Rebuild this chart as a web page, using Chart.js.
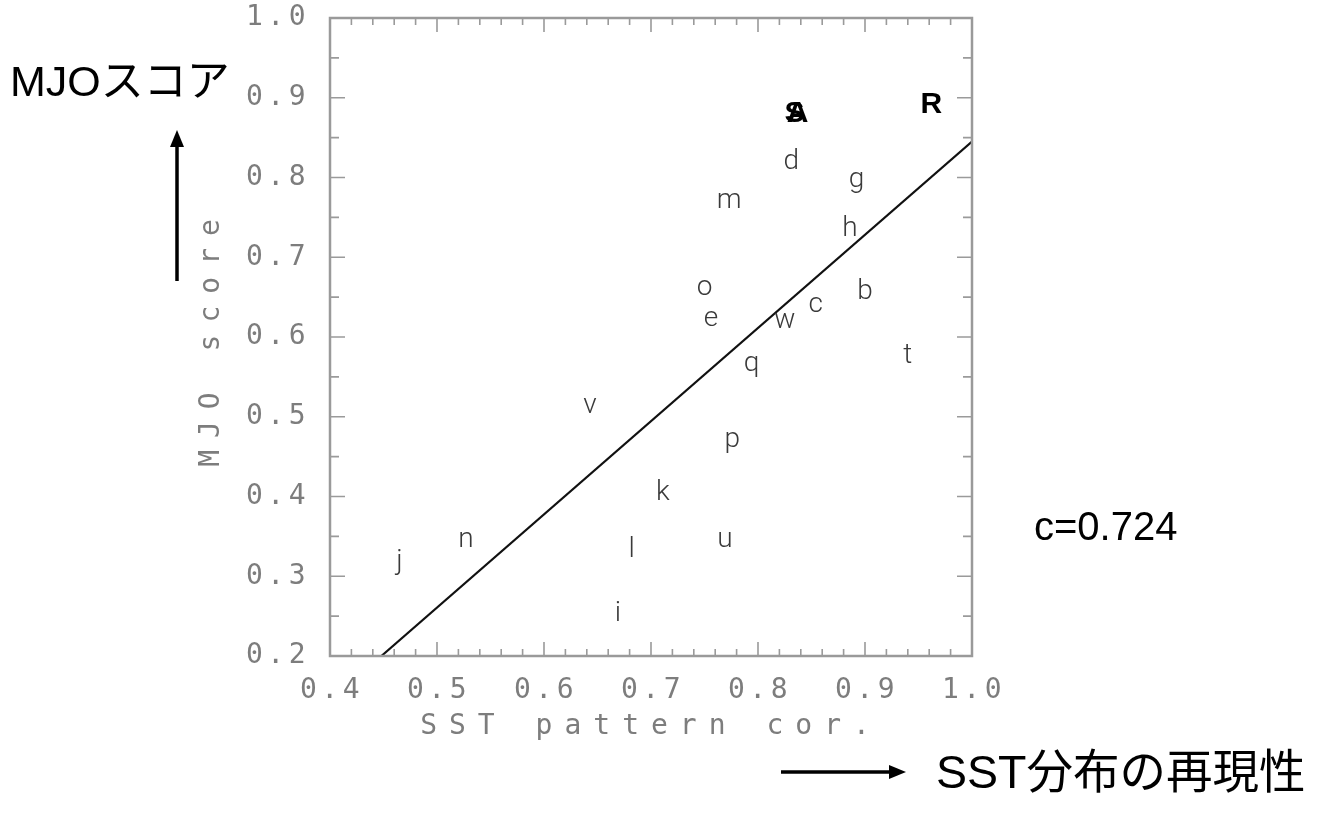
<!DOCTYPE html>
<html lang="ja">
<head>
<meta charset="utf-8">
<title>MJO score vs SST pattern cor.</title>
<script src="https://cdn.jsdelivr.net/npm/chart.js@4.4.1/dist/chart.umd.min.js"></script>
<style>
  html, body { margin: 0; padding: 0; background: #fff; }
  #wrap { position: relative; width: 1318px; height: 816px; overflow: hidden; }
  #chart { position: absolute; left: 0; top: 0; }
  .note {
    position: absolute;
    font-family: "Liberation Sans", Arial, "Noto Sans CJK JP", sans-serif;
    color: #000;
    white-space: nowrap;
    line-height: 1;
  }
  #note-y { left: 10px; top: 60px; font-size: 43px; }
  #note-c { left: 1034px; top: 506px; font-size: 40px; }
  #note-x { left: 936px; top: 749px; font-size: 46.5px; }
  svg.arrow { position: absolute; overflow: visible; }
</style>
</head>
<body>
<div id="wrap">
  <canvas id="chart" width="1318" height="816"></canvas>

  <div class="note" id="note-y">MJOスコア</div>
  <svg class="arrow" style="left:0;top:0" width="1318" height="816">
    <line x1="177" y1="281" x2="177" y2="146" stroke="#000" stroke-width="3.5"/>
    <polygon points="177,130 170,147 184,147" fill="#000"/>
    <line x1="781" y1="772" x2="890" y2="772" stroke="#000" stroke-width="3.5"/>
    <polygon points="906,772 889,765 889,779" fill="#000"/>
  </svg>
  <div class="note" id="note-c">c=0.724</div>
  <div class="note" id="note-x">SST分布の再現性</div>
</div>

<script>
// --- DATA ---
const labels   = ['S', 'A', 'R', 'd', 'g', 'm', 'h', 'o', 'b', 'c', 'e', 'w', 't', 'q', 'v', 'p', 'k', 'n', 'u', 'l', 'j', 'i'];
const sstCor   = [0.834, 0.837, 0.962, 0.831, 0.892, 0.773, 0.886, 0.750, 0.900, 0.854, 0.756, 0.825, 0.940, 0.794, 0.643, 0.776, 0.711, 0.527, 0.769, 0.682, 0.465, 0.669];
const mjoScore = [0.880, 0.880, 0.891, 0.820, 0.797, 0.771, 0.736, 0.662, 0.657, 0.640, 0.622, 0.620, 0.576, 0.566, 0.513, 0.471, 0.404, 0.345, 0.345, 0.333, 0.318, 0.253];
const boldLabels = ['S', 'A', 'R'];

// regression line end points
const fitX = [0.448, 1.0];
const fitY = [0.2, 0.845];

const xTicks = [0.4, 0.5, 0.6, 0.7, 0.8, 0.9, 1.0];
const yTicks = [0.2, 0.3, 0.4, 0.5, 0.6, 0.7, 0.8, 0.9, 1.0];

// --- STYLE ---
const monoFont = 'DejaVu Sans Mono';
const thinFont = 'Roboto';
const grey = '#7d7d7d';
const frameGrey = '#9a9a9a';

// frame, inward tick marks, letter markers; also switches letter spacing
// (titles are drawn in the grid layer, tick labels after the datasets)
const frameTicks = {
  id: 'frameTicks',
  beforeDraw(chart) {
    chart.ctx.letterSpacing = '12px';
  },
  afterDatasetsDraw(chart) {
    const { ctx, chartArea: a, scales: { x, y } } = chart;
    ctx.save();
    ctx.letterSpacing = '0px';

    ctx.strokeStyle = frameGrey;
    ctx.lineWidth = 1.6;
    ctx.beginPath();
    for (let k = 0; k <= 30; k++) {
      const px = x.getPixelForValue(0.4 + k * 0.02);
      const len = k % 5 === 0 ? 14 : 7;
      ctx.moveTo(px, a.bottom); ctx.lineTo(px, a.bottom - len);
      ctx.moveTo(px, a.top); ctx.lineTo(px, a.top + len);
    }
    for (let k = 0; k <= 16; k++) {
      const py = y.getPixelForValue(0.2 + k * 0.05);
      const len = k % 2 === 0 ? 15 : 9;
      ctx.moveTo(a.left, py); ctx.lineTo(a.left + len, py);
      ctx.moveTo(a.right, py); ctx.lineTo(a.right - len, py);
    }
    ctx.stroke();

    ctx.lineWidth = 2.5;
    ctx.strokeRect(a.left, a.top, a.right - a.left, a.bottom - a.top);

    // letters as markers
    const meta = chart.getDatasetMeta(0);
    ctx.textAlign = 'center';
    ctx.textBaseline = 'middle';
    meta.data.forEach((pt, i) => {
      const lab = labels[i];
      if (boldLabels.includes(lab)) {
        ctx.font = 'bold 30px "Liberation Sans"';
        ctx.fillStyle = '#000';
      } else {
        ctx.font = '300 28px ' + thinFont;
        ctx.fillStyle = '#3a3a3a';
      }
      ctx.fillText(lab, pt.x, pt.y);
    });
    ctx.restore();

    ctx.letterSpacing = '4.5px';
  },
  afterDraw(chart) {
    chart.ctx.letterSpacing = '0px';
  }
};

window.addEventListener('DOMContentLoaded', () => {
  const ctx = document.getElementById('chart').getContext('2d');

  new Chart(ctx, {
    type: 'scatter',
    data: {
      datasets: [
        {
          data: sstCor.map((v, i) => ({ x: v, y: mjoScore[i] })),
          pointRadius: 0,
          showLine: false
        },
        {
          data: fitX.map((v, i) => ({ x: v, y: fitY[i] })),
          showLine: true,
          borderColor: '#111',
          borderWidth: 2.2,
          pointRadius: 0,
          tension: 0
        }
      ]
    },
    options: {
      responsive: false,
      animation: false,
      events: [],
      layout: { padding: { left: 190, right: 346, top: 18, bottom: 60 } },
      plugins: { legend: { display: false }, tooltip: { enabled: false } },
      scales: {
        x: {
          type: 'linear',
          min: 0.4, max: 1.0,
          afterBuildTicks: (s) => { s.ticks = xTicks.map(v => ({ value: v })); },
          afterFit: (s) => { s.height = 100; s.paddingLeft = 0; s.paddingRight = 0; },
          grid: { display: false },
          border: { display: false },
          ticks: {
            z: 1,
            autoSkip: false,
            maxRotation: 0,
            padding: 10,
            labelOffset: 2,
            color: grey,
            font: { family: monoFont, size: 28 },
            callback: (v) => Number(v).toFixed(1)
          },
          title: {
            display: true,
            text: 'SST pattern cor.',
            color: grey,
            font: { family: monoFont, size: 28 },
            padding: { top: 0, bottom: 12 }
          }
        },
        y: {
          type: 'linear',
          min: 0.2, max: 1.0,
          afterBuildTicks: (s) => { s.ticks = yTicks.map(v => ({ value: v })); },
          afterFit: (s) => { s.width = 140; s.paddingTop = 0; s.paddingBottom = 0; },
          grid: { display: false },
          border: { display: false },
          ticks: {
            z: 1,
            autoSkip: false,
            padding: 12,
            color: grey,
            font: { family: monoFont, size: 28 },
            callback: (v) => Number(v).toFixed(1)
          },
          title: {
            display: true,
            text: 'MJO score',
            color: grey,
            font: { family: monoFont, size: 28 },
            padding: { top: 5, bottom: 0 }
          }
        }
      }
    },
    plugins: [frameTicks]
  });
});
</script>
</body>
</html>
